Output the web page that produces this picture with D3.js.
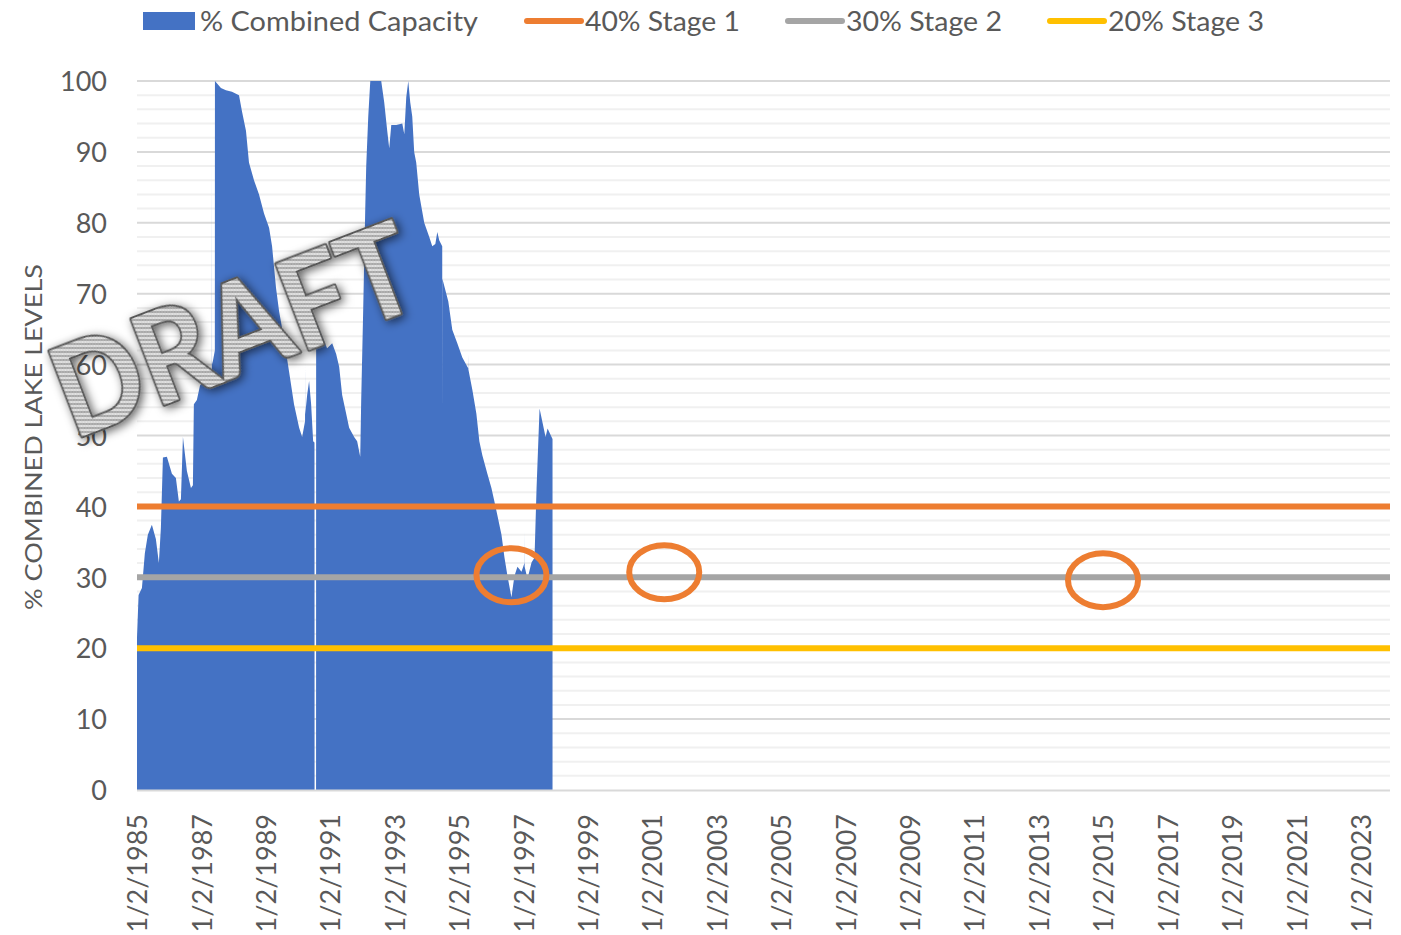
<!DOCTYPE html>
<html>
<head>
<meta charset="utf-8">
<script src="https://cdn.jsdelivr.net/npm/d3@7"></script>
<style>
  html, body { margin: 0; padding: 0; background: #ffffff; }
  svg { display: block; }
  text { font-family: Lato, "Open Sans", sans-serif; }
</style>
</head>
<body>
<svg id="chart" width="1401" height="935"></svg>
<script>
// ---------------- DATA ----------------
const dates = [
  "1985-01-02","1985-01-20","1985-02-27","1985-04-01","1985-05-05","1985-06-20","1985-08-04","1985-09-07","1985-09-30",
  "1985-10-23","1985-12-07","1986-02-02","1986-03-19","1986-04-22","1986-05-15","1986-06-07","1986-07-22","1986-09-06",
  "1986-09-28","1986-10-09","1986-11-12","1986-12-17","1987-02-23","1987-04-21","1987-05-01","1987-05-02","1987-05-03",
  "1987-05-13","1987-06-04","1987-06-05","1987-08-12","1987-10-08","1987-12-15","1988-03-04","1988-04-07","1988-05-22",
  "1988-06-25","1988-08-21","1988-10-17","1988-12-13","1989-02-08","1989-03-14","1989-04-28","1989-06-02","1989-07-28",
  "1989-09-23","1989-11-18","1990-01-15","1990-02-18","1990-03-23","1990-03-24","1990-03-25","1990-04-16","1990-05-08",
  "1990-05-31","1990-06-23","1990-07-08","1990-07-09","1990-07-26","1990-07-27","1990-08-30","1990-11-28","1991-01-25",
  "1991-03-11","1991-04-14","1991-05-18","1991-07-02","1991-08-05","1991-10-01","1991-11-04","1991-12-09","1991-12-20",
  "1992-01-12","1992-02-04","1992-02-15","1992-03-09","1992-04-01","1992-08-03","1992-09-06","1992-10-10","1992-11-02",
  "1992-11-25","1993-01-21","1993-03-30","1993-04-22","1993-05-14","1993-06-06","1993-06-28","1993-07-21","1993-08-12",
  "1993-09-04","1993-10-08","1993-12-04","1994-01-30","1994-03-05","1994-04-09","1994-05-01","1994-05-24","1994-06-26",
  "1994-06-27","1994-06-28","1994-09-03","1994-10-18","1994-12-14","1995-02-09","1995-04-07","1995-04-17","1995-04-18",
  "1995-04-19","1995-06-03","1995-07-18","1995-08-21","1995-09-24","1995-11-20","1996-01-05","1996-02-08","1996-03-13",
  "1996-04-28","1996-06-01","1996-07-05","1996-08-19","1996-09-22","1996-10-26","1996-12-11","1997-01-14","1997-01-15",
  "1997-01-16","1997-02-17","1997-04-04","1997-05-08","1997-05-31","1997-07-04","1997-08-07","1997-09-10","1997-10-03",
  "1997-11-17","1997-11-28"
];
const capacity = [
  21.5, 27.5, 28.5, 33.4, 36, 37.4, 35.4, 32, 37,
  46.9, 47, 44.6, 44, 40.7, 41, 49.8, 45, 42.6,
  43, 54.4, 55, 57, 58.4, 59, 59.5, 90, 60,
  60.5, 62, 100, 99, 98.7, 98.5, 98, 95.7, 93,
  88.5, 86, 84, 81.3, 79.3, 76.7, 70.8, 67.5, 63.6,
  59, 54.4, 51.1, 49.8, 52, 60.3, 53, 55.7, 57.7,
  54.4, 49.2, 49, 0, 0, 66, 65, 62.3, 63,
  61.5, 59.7, 55.7, 53.1, 51.1, 49.8, 49.2, 47, 55,
  68, 82, 88, 95, 100, 100, 97, 93, 90.5,
  93.8, 93.8, 94, 92.5, 97.7, 100, 97, 95, 90,
  88.5, 84, 80, 78, 76.7, 77, 78.7, 77.5, 76.7,
  52, 72.1, 68.9, 64.9, 63, 61, 59.7, 59.5, 61.5,
  59.3, 56.4, 53.1, 49.2, 47.2, 44.6, 42.6, 40.7, 38.7,
  36, 32.8, 30.2, 27.2, 30.2, 31.5, 30.8, 32, 36.5,
  31.5, 29.8, 32.1, 32.8, 42.6, 53.8, 51.8, 49.8, 51,
  49.8, 49.5
];
const seriesNames = ["% Combined Capacity", "40% Stage 1", "30% Stage 2", "20% Stage 3"];
const stageValues = [40, 30, 20];
const yTicks = [0, 10, 20, 30, 40, 50, 60, 70, 80, 90, 100];
const xTickLabels = ["1/2/1985","1/2/1987","1/2/1989","1/2/1991","1/2/1993","1/2/1995","1/2/1997","1/2/1999",
  "1/2/2001","1/2/2003","1/2/2005","1/2/2007","1/2/2009","1/2/2011","1/2/2013","1/2/2015","1/2/2017",
  "1/2/2019","1/2/2021","1/2/2023"];
const circleDates = ["1996-08-19", "2001-05-18", "2015-01-02"];
const circleValues = [30.3, 30.7, 29.6];
const axisTitle = "% COMBINED LAKE LEVELS";
const watermark = "DRAFT";

// ---------------- STYLE ----------------
const colors = { area: "#4472C4", stages: ["#ED7D31", "#A5A5A5", "#FFC000"], text: "#595959",
  major: "#d9d9d9", minor: "#f0f0f0" };
const M = { left: 137, right: 1390, top: 81, bottom: 790 };

const parse = d3.timeParse("%Y-%m-%d");
const parseTick = d3.timeParse("%m/%d/%Y");
const data = dates.map((d, i) => ({ date: parse(d), v: capacity[i] }));

const x = d3.scaleTime()
  .domain([parse("1985-01-02"), parse("2023-12-01")])
  .range([M.left, M.right]);
const y = d3.scaleLinear().domain([0, 100]).range([M.bottom, M.top]);

const svg = d3.select("#chart");
const defs = svg.append("defs");

// stripe pattern for watermark
const pat = defs.append("pattern").attr("id", "stripes")
  .attr("patternUnits", "userSpaceOnUse").attr("width", 10).attr("height", 4)
  .attr("patternTransform", "rotate(21)");
pat.append("rect").attr("width", 10).attr("height", 4).attr("fill", "#e6e6e6");
pat.append("rect").attr("width", 10).attr("height", 2).attr("fill", "#a0a0a0");

const filt = defs.append("filter").attr("id", "shadow")
  .attr("x", "-20%").attr("y", "-40%").attr("width", "140%").attr("height", "180%");
filt.append("feDropShadow").attr("dx", 2).attr("dy", 3).attr("stdDeviation", 5)
  .attr("flood-color", "#000").attr("flood-opacity", 0.6);

// minor gridlines (every 2)
const minorVals = d3.range(2, 100, 2).filter(v => v % 10 !== 0);
svg.append("g").selectAll("line").data(minorVals).join("line")
  .attr("x1", M.left).attr("x2", M.right)
  .attr("y1", d => y(d)).attr("y2", d => y(d))
  .attr("stroke", colors.minor).attr("stroke-width", 2);

// major gridlines
svg.append("g").selectAll("line").data(yTicks.filter(v => v > 0)).join("line")
  .attr("x1", M.left).attr("x2", M.right)
  .attr("y1", d => y(d)).attr("y2", d => y(d))
  .attr("stroke", colors.major).attr("stroke-width", 2);

// area
const area = d3.area().x(d => x(d.date)).y0(y(0)).y1(d => y(d.v));
svg.append("path").datum(data).attr("d", area).attr("fill", colors.area);

// x axis line
svg.append("line").attr("x1", M.left).attr("x2", M.right)
  .attr("y1", y(0) + 0.5).attr("y2", y(0) + 0.5)
  .attr("stroke", colors.major).attr("stroke-width", 2);

// stage lines
svg.append("g").selectAll("line").data(stageValues).join("line")
  .attr("x1", M.left).attr("x2", M.right)
  .attr("y1", d => y(d)).attr("y2", d => y(d))
  .attr("stroke", (d, i) => colors.stages[i]).attr("stroke-width", 6);

// y tick labels
const yAxis = d3.axisLeft(y).tickValues(yTicks).tickSize(0).tickPadding(0).tickFormat(d3.format("d"));
const gy = svg.append("g").attr("transform", `translate(107,0)`).call(yAxis);
gy.select(".domain").remove();
gy.selectAll("text").attr("fill", colors.text).attr("font-size", 27)
  .attr("font-family", "Lato, sans-serif").attr("dy", "0.36em");

// x tick labels
const xAxis = d3.axisBottom(x).tickValues(xTickLabels.map(parseTick)).tickSize(0)
  .tickFormat(d3.timeFormat("%-m/%-d/%Y"));
const gx = svg.append("g").attr("transform", `translate(0,${y(0)})`).call(xAxis);
gx.select(".domain").remove();
gx.selectAll("text")
  .attr("fill", colors.text).attr("font-size", 27).attr("font-family", "Lato, sans-serif")
  .attr("text-anchor", "end").attr("transform", "rotate(-90)")
  .attr("x", -24).attr("y", 0).attr("dy", "0.36em");

// y axis title
svg.append("text").attr("transform", "translate(33,437) rotate(-90)")
  .attr("text-anchor", "middle").attr("dy", "0.36em")
  .attr("fill", colors.text).attr("font-size", 24)
  .attr("textLength", 346).attr("lengthAdjust", "spacingAndGlyphs")
  .text(axisTitle);

// annotation ellipses
svg.append("g").selectAll("ellipse").data(circleDates).join("ellipse")
  .attr("cx", d => x(parse(d))).attr("cy", (d, i) => y(circleValues[i]))
  .attr("rx", 35).attr("ry", 27)
  .attr("fill", "none").attr("stroke", colors.stages[0]).attr("stroke-width", 6);

// legend
const leg = svg.append("g");
leg.append("rect").attr("x", 143).attr("y", 12).attr("width", 52).attr("height", 18).attr("fill", colors.area);
const legLineX = [525, 786, 1048];
stageValues.forEach((v, i) => {
  leg.append("line").attr("x1", legLineX[i] + 2).attr("x2", legLineX[i] + 56)
    .attr("y1", 21).attr("y2", 21).attr("stroke", colors.stages[i])
    .attr("stroke-width", 6).attr("stroke-linecap", "round");
});
const legTextX = [200, 585, 846, 1108];
const legTextW = [278, 155, 156, 156];
seriesNames.forEach((n, i) => {
  leg.append("text").attr("x", legTextX[i]).attr("y", 21).attr("dy", "0.36em")
    .attr("fill", colors.text).attr("font-size", 27)
    .attr("textLength", legTextW[i]).attr("lengthAdjust", "spacingAndGlyphs")
    .text(n);
});

// watermark
svg.append("text")
  .attr("transform", "translate(234,331) rotate(-21)")
  .attr("text-anchor", "middle").attr("y", 44)
  .attr("font-size", 126).attr("font-weight", 700).attr("font-family", "Lato, sans-serif")
  .attr("textLength", 378).attr("lengthAdjust", "spacingAndGlyphs")
  .attr("fill", "url(#stripes)").attr("stroke", "#595959").attr("stroke-width", 4)
  .attr("stroke-linejoin", "round").attr("paint-order", "stroke")
  .attr("filter", "url(#shadow)")
  .text(watermark);
</script>
</body>
</html>
